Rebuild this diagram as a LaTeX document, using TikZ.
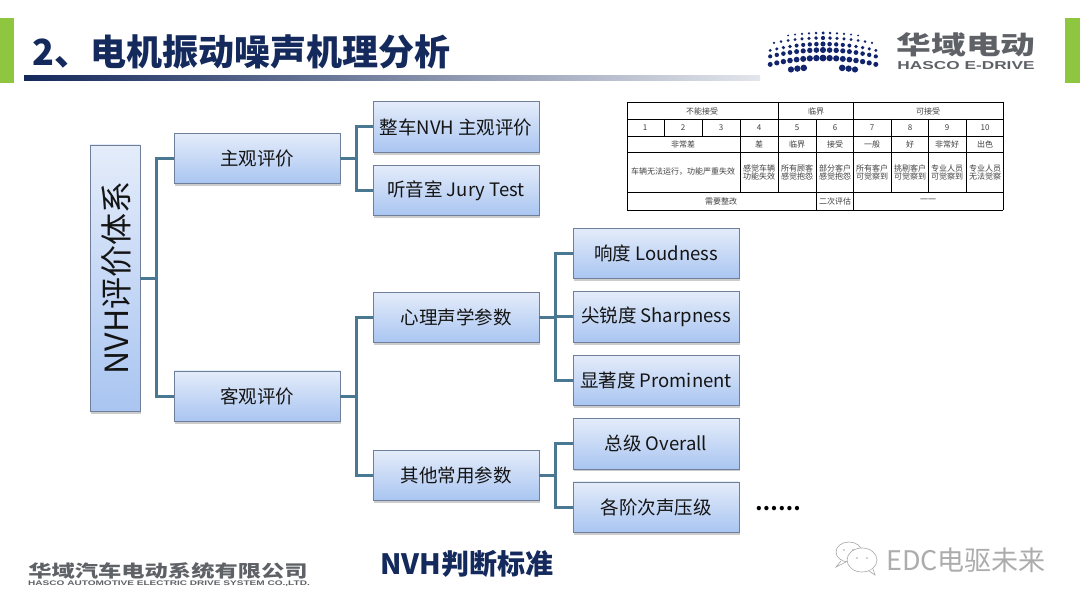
\documentclass[tikz,border=0pt]{standalone}
\usepackage{fontspec}
\setmainfont{Noto Sans CJK SC}
\newfontfamily\widefont[FakeStretch=1.5]{Liberation Sans}
\newfontfamily\brandfont[FakeStretch=1.36]{Noto Sans CJK SC}
\usetikzlibrary{positioning, shadows}

\definecolor{navy}{HTML}{14295C}
\definecolor{branchblue}{HTML}{4A7892}
\definecolor{barlime}{HTML}{8FC63F}
\definecolor{logogray}{HTML}{5E6166}
\definecolor{boxtop}{HTML}{E4ECFA}
\definecolor{boxbot}{HTML}{A9C5F1}
\definecolor{boxline}{HTML}{6F7F99}

\newcommand{\fsz}[1]{\fontsize{#1}{#1}\selectfont}

\begin{document}
\begin{tikzpicture}[x=1pt,y=-1pt,
 evalbox/.style={rectangle,draw=boxline,line width=0.6pt,top color=boxtop,bottom color=boxbot,
  minimum width=166pt,minimum height=50.4pt,inner sep=0pt,outer sep=0pt,text=black!92,font=\fsz{18.5},
  drop shadow={shadow xshift=0.5pt,shadow yshift=-2.5pt,opacity=0.4}},
 branch/.style={draw=branchblue,line width=3pt,to path={-- ++(16.5,0) |- (\tikztotarget)}},
 cell/.style={font=\fsz{8},text=black!75,align=center,inner sep=0pt},
 rule/.style={draw=black,line width=0.7pt}]
  \useasboundingbox (0,0) rectangle (1080,607);
  \fill[white] (0,0) rectangle (1080,607);

  % page furniture
  \fill[barlime] (0,18) rectangle (14,83);
  \fill[barlime] (1065,18) rectangle (1080,83);
  \shade[left color=navy,right color=navy!12] (24,76) rectangle (760,81);
  \node[font=\fsz{36}\bfseries,text=navy,anchor=west,inner sep=0pt] (title) at (32,52) {2、电机振动噪声机理分析};

  % tree
  \node[evalbox,minimum width=50pt,minimum height=266pt] (root) at (115,278) {};
  \node[font=\fsz{32},rotate=90,text=black!92] (rootlabel) at (116,278) {NVH评价体系};
  \node[evalbox] (subj) at (257,158.5) {主观评价};
  \node[evalbox] (obj) at (257,396) {客观评价};
  \node[evalbox] (car) at (456,127) {整车NVH 主观评价};
  \node[evalbox] (jury) [below=13pt of car] {听音室 Jury Test};
  \node[evalbox] (psy) at (456,317.5) {心理声学参数};
  \node[evalbox] (other) at (456,475.5) {其他常用参数};
  \node[evalbox] (loud) at (656,253.5) {响度 Loudness};
  \node[evalbox] (sharp) [below=13pt of loud] {尖锐度 Sharpness};
  \node[evalbox] (prom) [below=13pt of sharp] {显著度 Prominent};
  \node[evalbox] (overall) [below=13pt of prom] {总级 Overall};
  \node[evalbox] (order) [below=13pt of overall] {各阶次声压级};
  \node[font=\fsz{20}\bfseries,text=black,inner sep=0pt] (more) at (778,509) {……};

  \foreach \s/\t in {root/subj, root/obj, subj/car, subj/jury, obj/psy, obj/other,
    psy/loud, psy/sharp, psy/prom, other/overall, other/order} {
   \path[branch] (\s.east) to (\t.west);}

  % rating table
  \foreach \yy in {102,119,136,152,192,210}
   \draw[rule] (627,\yy) -- (1003,\yy);
  \draw[rule] (627,102) -- (627,210);
  \draw[rule] (1003,102) -- (1003,210);
  \foreach \xx in {778,853} \draw[rule] (\xx,102) -- (\xx,119);
  \foreach \xx in {664,702,740,778,816,853,891,928,966} \draw[rule] (\xx,119) -- (\xx,136);
  \foreach \xx in {740,778,816,853,891,928,966} \draw[rule] (\xx,136) -- (\xx,192);
  \foreach \xx in {816,853} \draw[rule] (\xx,192) -- (\xx,210);

  \foreach \xx/\t in {702/不能接受, 816/临界, 928/可接受}
   \node[cell] at (\xx,111) {\t};
  \foreach \xx/\t in {645/1, 683/2, 721/3, 759/4, 797/5, 835/6, 872/7, 910/8, 947/9, 985/10}
   \node[cell] at (\xx,128) {\t};
  \foreach \xx/\t in {683/非常差, 759/差, 797/临界, 835/接受, 872/一般, 910/好, 947/非常好, 985/出色}
   \node[cell] at (\xx,144.5) {\t};
  \node[cell] at (683,172) {车辆无法运行，功能严重失效};
  \foreach \xx/\t/\u in {759/感觉车辆/功能失效, 797/所有顾客/感觉抱怨, 835/部分客户/感觉抱怨,
    872/所有客户/可觉察到, 910/挑剔客户/可觉察到, 947/专业人员/可觉察到, 985/专业人员/无法觉察}
   \node[cell] at (\xx,172) {\t\\\u};
  \node[cell] at (721,201) {需要整改};
  \node[cell] at (835,201) {二次评估};
  \node[cell] at (928,201) {一一};

  \node[font=\fsz{28}\bfseries,text=navy,inner sep=0pt] (std) at (467,564) {NVH判断标准};

  % top logo
  \foreach \yy/\rr/\from/\to/\dx in {33/1.5/0/5/7, 38/2/0/7/7, 44/2.4/0/8/6.6, 50/2.9/0/8/6.6,
    58/3.3/0/8/6.6, 67/3.6/3/5/6.4}
   \foreach \i in {\from,...,\to} {
    \fill[navy!90!blue] ({823+\i*\dx},{\yy+0.1*\i*\i}) circle ({\rr-0.1*\i});
    \fill[navy!90!blue] ({823-\i*\dx},{\yy+0.1*\i*\i}) circle ({\rr-0.1*\i});}
  \node[font=\brandfont\fsz{25.5}\bfseries,text=logogray,inner sep=0pt] (brand) at (966,45) {华域电动};
  \node[font=\widefont\fsz{11.5}\bfseries,text=logogray,inner sep=0pt] (brandsub) at (966,66) {HASCO E-DRIVE};

  % bottom logo
  \node[font=\brandfont\fsz{17.1}\bfseries,text=logogray,inner sep=0pt] (firm) at (168,570.5) {华域汽车电动系统有限公司};
  \node[font=\widefont\fsz{6.7}\bfseries,text=logogray,inner sep=0pt] (firmsub) at (169,584) {HASCO AUTOMOTIVE ELECTRIC DRIVE SYSTEM CO.,LTD.};

  % watermark
  \draw[gray!70,line width=0.6pt,fill=white] (849,552) ellipse (13 and 10);
  \draw[gray!70,line width=0.6pt] (841,561) -- (836,567) -- (846,562);
  \draw[gray!70,line width=0.6pt,fill=white] (862,560) ellipse (15 and 12);
  \draw[gray!70,line width=0.6pt,fill=white] (869,571) -- (875,575) -- (873,569);
  \foreach \xx/\yy in {844/550, 853/550, 857/558, 867/558}
   \fill[gray!70] (\xx,\yy) circle (0.9);
  \node[font=\fsz{27},text=gray!65,inner sep=0pt] (mark) at (966,560) {EDC电驱未来};
\end{tikzpicture}
\end{document}
